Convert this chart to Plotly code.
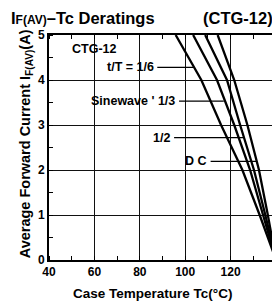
import plotly.graph_objects as go

# Data
current_A = [5, 4, 3, 2, 1, 0]
tc_1_6 = [95.8, 107.1, 115.8, 125.2, 132.8, 140]
tc_1_3 = [103.5, 114.0, 121.6, 128.6, 134.3, 140]
tc_1_2 = [108.8, 118.4, 124.2, 130.3, 135.3, 140]
tc_dc = [114.3, 121.6, 127.4, 132.5, 136.4, 140]

x_ticks = [40, 60, 80, 100, 120, 140]
y_ticks = [0, 1, 2, 3, 4, 5]

FONT = "Liberation Sans, Arial, sans-serif"

# page body has an 8px default margin; plot area in page pixels: x 49..278, y 35..260
BODY = 8
PL, PR, PT, PB = 49, 278, 35, 260
PW, PH = PR - PL, PB - PT


def px(x):
    return (x - PL) / PW


def py(y):
    return (PB - y) / PH


fig = go.Figure()
for tc in [tc_1_6, tc_1_3, tc_1_2, tc_dc]:
    fig.add_trace(go.Scatter(x=tc, y=current_A, mode="lines",
                             line=dict(color="black", width=2.3),
                             showlegend=False, hoverinfo="skip"))

# curve labels with leader lines: (text, text right x, y, leader end x)
labels = [
    ("t/T = 1/6", 87.4, 4.28, 103.5),
    ("Sinewave ' 1/3", 97.0, 3.53, 117.0),
    ("1/2", 94.8, 2.72, 125.6),
    ("D C", 110.9, 2.19, 131.3),
]
for txt, xr, yv, xe in labels:
    fig.add_annotation(x=xr, y=yv, xref="x", yref="y", text="<b>%s</b>" % txt,
                       showarrow=False, xanchor="right", yanchor="middle",
                       font=dict(family=FONT, size=12.5, color="black"), xshift=-1)
    fig.add_shape(type="line", x0=xr + 0.3, x1=xe, y0=yv, y1=yv, xref="x", yref="y",
                  line=dict(color="black", width=1.3))

fig.add_annotation(x=60, y=4.7, xref="x", yref="y", text="<b>CTG-12</b>",
                   showarrow=False, font=dict(family=FONT, size=12.5, color="black"))

# Title
fig.add_annotation(x=px(9), y=py(17.5), xref="paper", yref="paper",
                   text="<b>I<span style='font-size:12px'>F(AV)</span>–Tc Deratings</b>",
                   showarrow=False, xanchor="left", yanchor="middle",
                   font=dict(family=FONT, size=16.5, color="black"))
fig.add_annotation(x=px(277), y=py(17.5), xref="paper", yref="paper",
                   text="<b>(CTG-12)</b>", showarrow=False,
                   xanchor="right", yanchor="middle",
                   font=dict(family=FONT, size=16.5, color="black"))

# Axis titles
fig.add_annotation(x=px(15), y=py(144), xref="paper", yref="paper",
                   text="<b>Average Forward Current I<sub>F(AV)</sub>(A)</b>",
                   textangle=-90, showarrow=False,
                   font=dict(family=FONT, size=14.5, color="black"))
fig.add_annotation(x=px(153), y=py(284), xref="paper", yref="paper",
                   text="<b>Case Temperature Tc(°C)</b>", showarrow=False,
                   yanchor="top",
                   font=dict(family=FONT, size=13.5, color="black"))

axis_common = dict(showline=True, linecolor="black", linewidth=1.6, mirror="ticks",
                   showgrid=True, gridcolor="#111", gridwidth=1.1, zeroline=False,
                   ticks="", tickfont=dict(family=FONT, size=12, color="black"))
fig.update_xaxes(range=[40, 140], tickvals=x_ticks, ticktext=["<b>%d</b>" % v for v in x_ticks],
                 minor=dict(dtick=10, ticks="inside", ticklen=4, tickcolor="black", showgrid=False),
                 **axis_common)
fig.update_yaxes(range=[0, 5], tickvals=y_ticks, ticktext=["<b>%d</b>" % v for v in y_ticks],
                 minor=dict(dtick=0.5, ticks="inside", ticklen=4, tickcolor="black", showgrid=False),
                 **axis_common)

fig.update_layout(width=280 - BODY, height=305 - BODY,
                  margin=dict(l=PL - BODY, r=280 - PR, t=PT - BODY, b=305 - PB),
                  plot_bgcolor="white", paper_bgcolor="white",
                  font=dict(family=FONT, color="black"))

fig.write_html("out.html")
